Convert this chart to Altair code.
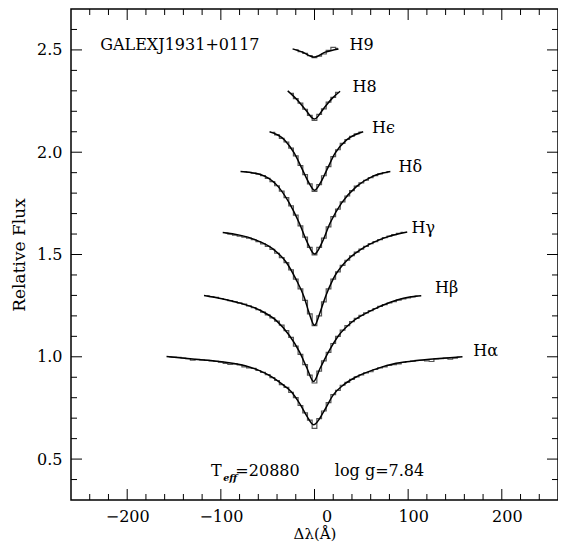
import altair as alt
import pandas as pd

FONT = "DejaVu Serif"

# ---------------- data ----------------
# x tick marks (Angstrom) and y tick marks (relative flux)
x_major = [-200, -100, 0, 100, 200]
x_minor = [-240, -220, -180, -160, -140, -120, -80, -60, -40, -20,
           20, 40, 60, 80, 120, 140, 160, 180, 220, 240]
y_major = [0.5, 1.0, 1.5, 2.0, 2.5]
y_minor = [0.4, 0.6, 0.7, 0.8, 0.9, 1.1, 1.2, 1.3, 1.4, 1.6, 1.7, 1.8, 1.9,
           2.1, 2.2, 2.3, 2.4, 2.6]

# model (smooth) profiles, offset vertically
ha_model_x = [-158, -130, -95, -74, -60, -46, -36, -25, -15, -8, -1, 10, 20, 31, 45, 62, 87, 115, 158]
ha_model_y = [1.002, 0.989, 0.973, 0.956, 0.935, 0.903, 0.871, 0.830, 0.765, 0.709, 0.668,
              0.733, 0.814, 0.863, 0.903, 0.935, 0.968, 0.984, 1.000]
hb_model_x = [-118, -83, -58, -41, -27, -16, -8, -1, 6, 15, 26, 40, 61, 81, 108, 114]
hb_model_y = [1.300, 1.267, 1.227, 1.178, 1.105, 1.024, 0.944, 0.879, 0.944, 1.024, 1.105,
              1.170, 1.227, 1.267, 1.296, 1.298]
hg_model_x = [-98, -65, -44, -30, -20, -11, -6, 0, 6, 11.5, 20, 32.5, 50, 71, 99]
hg_model_y = [1.607, 1.575, 1.526, 1.461, 1.381, 1.291, 1.218, 1.154, 1.218, 1.291, 1.381,
              1.461, 1.526, 1.575, 1.610]
hd_model_x = [-79, -57, -39, -27, -16.4, -7.6, 0, 8, 16.8, 29, 45, 62, 81]
hd_model_y = [1.906, 1.890, 1.833, 1.752, 1.655, 1.558, 1.502, 1.558, 1.655, 1.752, 1.833,
              1.882, 1.906]
he_model_x = [-48, -32, -21.6, -12.9, -5.9, 0, 6.3, 13.3, 22, 34.3, 52]
he_model_y = [2.100, 2.060, 1.995, 1.915, 1.850, 1.814, 1.850, 1.915, 1.995, 2.060, 2.100]
h8_model_x = [-28.6, -18.1, -9.4, 0, 9.8, 18.6, 27.3]
h8_model_y = [2.300, 2.254, 2.206, 2.162, 2.214, 2.262, 2.298]
h9_model_x = [-23.4, -12.9, 0, 11.5, 25.6]
h9_model_y = [2.505, 2.489, 2.465, 2.489, 2.505]

# observed (binned, 5 A) spectra
ha_obs_x = list(range(-155, 160, 5))
ha_obs_y = [1.000, 0.998, 0.997, 0.994, 0.991, 0.984, 0.987, 0.985, 0.982, 0.980,
            0.978, 0.974, 0.968, 0.963, 0.965, 0.960, 0.951, 0.946, 0.943, 0.933,
            0.924, 0.913, 0.898, 0.884, 0.864, 0.851, 0.826, 0.800, 0.762, 0.726,
            0.690, 0.650, 0.698, 0.735, 0.776, 0.815, 0.836, 0.861, 0.875, 0.890,
            0.902, 0.912, 0.921, 0.927, 0.938, 0.946, 0.951, 0.958, 0.962, 0.965,
            0.972, 0.977, 0.979, 0.982, 0.983, 0.980, 0.977, 0.990, 0.991, 0.993,
            0.989, 0.993, 0.999]
hb_obs_x = list(range(-115, 115, 5))
hb_obs_y = [1.298, 1.294, 1.290, 1.285, 1.280, 1.275, 1.269, 1.264, 1.257, 1.249,
            1.240, 1.230, 1.218, 1.205, 1.190, 1.174, 1.155, 1.128, 1.095, 1.052,
            1.012, 0.962, 0.910, 0.872, 0.930, 0.980, 1.022, 1.065, 1.100, 1.130,
            1.152, 1.172, 1.188, 1.202, 1.215, 1.226, 1.236, 1.246, 1.255, 1.263,
            1.270, 1.277, 1.283, 1.288, 1.293, 1.297]
hg_obs_x = list(range(-95, 100, 5))
hg_obs_y = [1.604, 1.600, 1.595, 1.590, 1.585, 1.580, 1.573, 1.563, 1.552, 1.540,
            1.525, 1.506, 1.485, 1.460, 1.425, 1.380, 1.332, 1.276, 1.210, 1.152,
            1.200, 1.268, 1.332, 1.380, 1.415, 1.447, 1.472, 1.494, 1.512, 1.526,
            1.540, 1.553, 1.563, 1.573, 1.582, 1.590, 1.597, 1.603, 1.608]
hd_obs_x = list(range(-75, 85, 5))
hd_obs_y = [1.905, 1.902, 1.898, 1.893, 1.886, 1.872, 1.856, 1.836, 1.810, 1.778,
            1.738, 1.692, 1.640, 1.585, 1.535, 1.498, 1.535, 1.580, 1.635, 1.685,
            1.722, 1.757, 1.786, 1.812, 1.834, 1.850, 1.863, 1.876, 1.886, 1.894,
            1.900, 1.905]
he_obs_x = list(range(-45, 55, 5))
he_obs_y = [2.097, 2.085, 2.068, 2.050, 2.020, 1.982, 1.935, 1.890, 1.845, 1.808,
            1.842, 1.885, 1.930, 1.978, 2.012, 2.043, 2.062, 2.078, 2.090, 2.098]
h8_obs_x = list(range(-25, 30, 5))
h8_obs_y = [2.288, 2.262, 2.240, 2.210, 2.180, 2.155, 2.185, 2.212, 2.245, 2.268, 2.292]
h9_obs_x = list(range(-20, 30, 5))
h9_obs_y = [2.500, 2.492, 2.483, 2.472, 2.462, 2.470, 2.480, 2.498, 2.512, 2.508]

# line labels
line_names = ["H9", "H8", "Hϵ", "Hδ", "Hγ", "Hβ", "Hα"]
label_x = [37.4, 40.6, 61.5, 89.8, 103.5, 128.6, 169.5]
label_y = [2.523, 2.319, 2.120, 1.926, 1.630, 1.338, 1.028]

object_name = "GALEXJ1931+0117"
teff_text = "=20880"
logg_text = "log g=7.84"

# ---------------- build tables ----------------
models = [("Ha", ha_model_x, ha_model_y), ("Hb", hb_model_x, hb_model_y),
          ("Hg", hg_model_x, hg_model_y), ("Hd", hd_model_x, hd_model_y),
          ("He", he_model_x, he_model_y), ("H8", h8_model_x, h8_model_y),
          ("H9", h9_model_x, h9_model_y)]
obs = [("Ha", ha_obs_x, ha_obs_y), ("Hb", hb_obs_x, hb_obs_y),
       ("Hg", hg_obs_x, hg_obs_y), ("Hd", hd_obs_x, hd_obs_y),
       ("He", he_obs_x, he_obs_y), ("H8", h8_obs_x, h8_obs_y),
       ("H9", h9_obs_x, h9_obs_y)]

model_df = pd.DataFrame([{"line": n, "x": x, "y": y}
                         for n, xs_, ys_ in models for x, y in zip(xs_, ys_)])
obs_df = pd.DataFrame([{"line": n, "x": x, "y": y}
                       for n, xs_, ys_ in obs for x, y in zip(xs_, ys_)])
label_df = pd.DataFrame({"label": line_names, "x": label_x, "y": label_y})

W, H = 487, 491
xsc = alt.Scale(domain=[-260, 260], nice=False, zero=False)
ysc = alt.Scale(domain=[0.3, 2.7], nice=False, zero=False)

x_axis = alt.Axis(values=x_major, ticks=False, domain=False, grid=False, format="d",
                  labelFont=FONT, labelFontSize=16, labelColor="black", labelPadding=8,
                  labelOffset={"condition": [{"test": "datum.value == 0", "value": 12},
                                             {"test": "datum.value > 0", "value": 5}],
                               "value": 0},
                  title="Δλ(Å)", titleFont=FONT, titleFontSize=15, titleFontWeight="normal",
                  titleColor="black", titlePadding=2)
y_axis = alt.Axis(values=y_major, ticks=False, domain=False, grid=False, format=".1f",
                  labelFont=FONT, labelFontSize=16, labelColor="black", labelPadding=9,
                  title="Relative Flux", titleFont=FONT, titleFontSize=17,
                  titleFontWeight="normal", titleColor="black", titlePadding=8)

X = alt.X("x:Q", scale=xsc, axis=x_axis)
Y = alt.Y("y:Q", scale=ysc, axis=y_axis)

obs_layer = alt.Chart(obs_df).mark_line(interpolate="step", color="#555555", strokeWidth=1.2).encode(
    x=X, y=Y, detail="line:N")
model_layer = alt.Chart(model_df).mark_line(interpolate="monotone", color="black", strokeWidth=1.5).encode(
    x=X, y=Y, detail="line:N")


def xticks(vals, length, top):
    ch = alt.Chart(pd.DataFrame({"x": vals})).mark_rule(color="black", strokeWidth=1)
    if top:
        return ch.encode(x=X, y=alt.value(0), y2=alt.value(length))
    return ch.encode(x=X, y=alt.value(H), y2=alt.value(H - length))


def yticks(vals, length, right):
    ch = alt.Chart(pd.DataFrame({"y": vals})).mark_rule(color="black", strokeWidth=1)
    if right:
        return ch.encode(y=Y, x=alt.value(W), x2=alt.value(W - length))
    return ch.encode(y=Y, x=alt.value(0), x2=alt.value(length))


tick_layers = [xticks(x_major, 11, False), xticks(x_major, 11, True),
               xticks(x_minor, 6, False), xticks(x_minor, 6, True),
               yticks(y_major, 11, False), yticks(y_major, 11, True),
               yticks(y_minor, 6, False), yticks(y_minor, 6, True)]


def text_layer(label, x, y, baseline="middle", size=16, style="normal", weight="normal"):
    return alt.Chart(pd.DataFrame({"label": [label], "x": [x], "y": [y]})).mark_text(
        align="left", baseline=baseline, font=FONT, fontSize=size, fontStyle=style,
        fontWeight=weight, color="black").encode(x=X, y=Y, text="label:N")


labels = alt.Chart(label_df).mark_text(align="left", baseline="middle", font=FONT,
                                       fontSize=16, color="black").encode(x=X, y=Y, text="label:N")

name_layer = text_layer(object_name, -228.8, 2.525)
t_layer = text_layer("T", -110.4, 0.416, baseline="alphabetic")
eff_layer = text_layer("eff", -97.5, 0.394, baseline="alphabetic", size=9.5,
                       style="italic", weight="bold")
teff_layer = text_layer(teff_text, -84.5, 0.416, baseline="alphabetic")
logg_layer = text_layer(logg_text, 21.7, 0.416, baseline="alphabetic")

chart = alt.layer(obs_layer, model_layer, *tick_layers, labels, name_layer,
                  t_layer, eff_layer, teff_layer, logg_layer).properties(
    width=W, height=H,
    autosize=alt.AutoSizeParams(type="none"),
    padding={"left": 63, "top": 1, "right": 0, "bottom": 42},
    background="white",
).configure_view(stroke="black", strokeWidth=1.5)

chart.save("out.html", embed_options={"renderer": "svg", "actions": False})
